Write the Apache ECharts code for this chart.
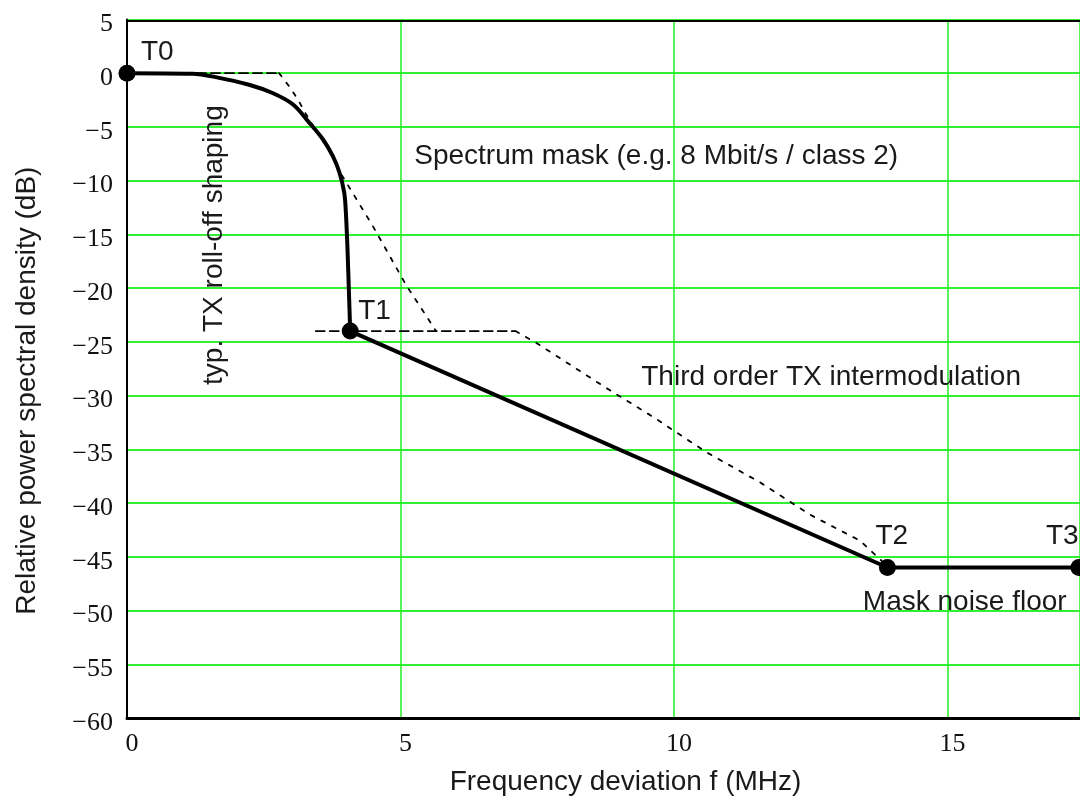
<!DOCTYPE html>
<html>
<head>
<meta charset="utf-8">
<script src="https://cdn.jsdelivr.net/npm/echarts@6/dist/echarts.min.js"></script>
<style>html,body{margin:0;padding:0;background:#fff}#c{width:1080px;height:801px}</style>
</head>
<body>
<div id="c"></div>
<script>
// ---- data (MHz, dB) ----
const xTicks = [0, 5, 10, 15];
const yTicks = [5, 0, -5, -10, -15, -20, -25, -30, -35, -40, -45, -50, -55, -60];
// typical TX roll-off shaping (solid, smooth)
const txRollOff = [[0,0],[1.19,-0.06],[1.62,-0.37],[2.23,-1.08],[2.66,-1.85],[3.03,-2.9],[3.33,-4.6],[3.58,-6.15],[3.76,-7.7],[3.88,-9.2],[3.97,-11.1],[4.0,-12.9],[4.03,-16.3],[4.06,-20.9],[4.08,-24.0]];
// spectral slope and mask noise floor (solid, straight)
const txFloor = [[4.08,-24.0],[13.9,-46],[17.4,-46]];
// spectrum mask (dashed flat part, dotted slope)
const maskFlat = [[0,0],[2.78,0]];
const maskSlope = [[2.78,0],[2.99,-1.4],[3.14,-2.6],[3.27,-3.8],[3.45,-5.3],[3.62,-6.6],[3.76,-7.7],[3.88,-9.1],[4.49,-14.2],[5.1,-19.7],[5.65,-24]];
// third order TX intermodulation
const imFlat = [[3.45,-24],[7.1,-24]];
const imSlope = [[7.1,-24],[7.48,-25.1],[8.0,-26.8],[8.7,-29.1],[9.62,-32.0],[10.6,-35.3],[11.58,-38.1],[12.49,-41.1],[13.4,-43.5],[13.8,-45.4]];
// break points
const tNames = ['T0','T1','T2','T3'];
const tPoints = [[0,0],[4.08,-24],[13.9,-46],[17.4,-46]];
// annotation texts
const maskText = 'Spectrum mask (e.g. 8 Mbit/s / class 2)';
const imText = 'Third order TX intermodulation';
const floorText = 'Mask noise floor';
const rollText = 'typ. TX roll-off shaping';
const xName = 'Frequency deviation f (MHz)';
const yName = 'Relative power spectral density (dB)';

const chart = echarts.init(document.getElementById('c'), null, {renderer:'canvas'});
const sans = 'Liberation Sans, Arial, sans-serif';
const serif = 'Liberation Serif, Times New Roman, serif';
const txtColor = '#1a1a1a';

function lineSeries(name, data, width, dash, smooth) {
  return {
    name, type: 'line', data, showSymbol: false, symbol: 'none', silent: true,
    smooth: smooth || false,
    lineStyle: { color: '#000', width, type: dash || 'solid', cap: 'round', join: 'round' }, z: dash ? 3 : 4
  };
}

chart.setOption({
  animation: false,
  backgroundColor: '#fff',
  grid: { left: 127, right: 0, top: 19.4, bottom: 80, containLabel: false },
  xAxis: {
    type: 'value', min: 0, max: 17.42, interval: 5,
    name: xName, nameLocation: 'middle', nameGap: 50,
    nameTextStyle: { fontFamily: sans, fontSize: 28, color: txtColor, padding: [0,0,0,44] },
    axisLine: { show: true, onZero: false, lineStyle: { color: '#000', width: 3 } },
    axisTick: { show: false },
    axisLabel: { fontFamily: serif, fontSize: 26, color: '#111', margin: 13, padding: [0,0,0,10],
      showMaxLabel: false, formatter: v => xTicks.indexOf(v) >= 0 ? String(v) : '' },
    splitLine: { show: true, lineStyle: { color: '#22ee22', width: 1.5 } }
  },
  yAxis: {
    type: 'value', min: -60, max: 5, interval: 5,
    name: yName, nameLocation: 'middle', nameGap: 86, nameRotate: 90,
    nameTextStyle: { fontFamily: sans, fontSize: 28, color: txtColor, padding: [0,44,0,0] },
    axisLine: { show: true, onZero: false, lineStyle: { color: '#000', width: 2 } },
    axisTick: { show: false },
    axisLabel: { margin: 14,
      formatter: v => '{s|}\n{v|' + (v < 0 ? '\u2212' + Math.abs(v) : String(v)) + '}',
      rich: {
        s: { height: 10, lineHeight: 10, fontSize: 10 },
        v: { fontFamily: serif, fontSize: 26, color: '#111', lineHeight: 26 }
      }
    },
    splitLine: { show: true, lineStyle: { color: '#33ee33', width: 2 } }
  },
  series: [
    lineSeries('Spectrum mask', maskFlat, 1.8, [9,5]),
    lineSeries('Spectrum mask slope', maskSlope, 1.8, [4,8]),
    lineSeries('Third order TX intermodulation', imFlat, 1.8, [9,5]),
    lineSeries('Third order TX intermodulation slope', imSlope, 1.8, [4,8]),
    lineSeries('TX roll-off shaping', txRollOff, 4, null, 0.35),
    lineSeries('Slope and noise floor', txFloor, 4),
    {
      name: 'Break points', type: 'scatter', data: tPoints, symbol: 'circle', symbolSize: 17,
      itemStyle: { color: '#000', opacity: 1 }, z: 5, silent: true
    }
  ]
});

// annotation texts anchored to data coordinates
const tOffsets = [[14,-21],[8,-20],[-12,-31],[-33,-31]];
const px = p => chart.convertToPixel({gridIndex: 0}, p);
const labelStyle = (text, x, y, align) => ({
  type: 'text', x, y, silent: true, z: 10,
  style: { text, fontFamily: sans, fontSize: 28, fill: txtColor, align: align || 'left', verticalAlign: 'middle' }
});
const g = [];
tPoints.forEach((p, i) => {
  const q = px(p);
  g.push(labelStyle(tNames[i], q[0] + tOffsets[i][0], q[1] + tOffsets[i][1]));
});
let q = px([5.25, -7.7]); g.push(labelStyle(maskText, q[0], q[1]));
q = px([9.4, -28.3]); g.push(labelStyle(imText, q[0], q[1]));
q = px([13.45, -49.2]); g.push(labelStyle(floorText, q[0], q[1]));
q = px([1.59, -16]);
g.push({ type: 'text', x: q[0], y: q[1], rotation: Math.PI / 2, silent: true, z: 10,
  style: { text: rollText, fontFamily: sans, fontSize: 28, fill: txtColor, align: 'center', verticalAlign: 'middle' } });
// black frame line along the top of the plot
const a = px([0, 4.85]), b = px([17.42, 4.85]);
g.push({ type: 'line', silent: true, z: 6, shape: { x1: a[0], y1: a[1], x2: b[0], y2: b[1] },
  style: { stroke: '#000', lineWidth: 2 } });
chart.setOption({ graphic: g });
</script>
</body>
</html>
